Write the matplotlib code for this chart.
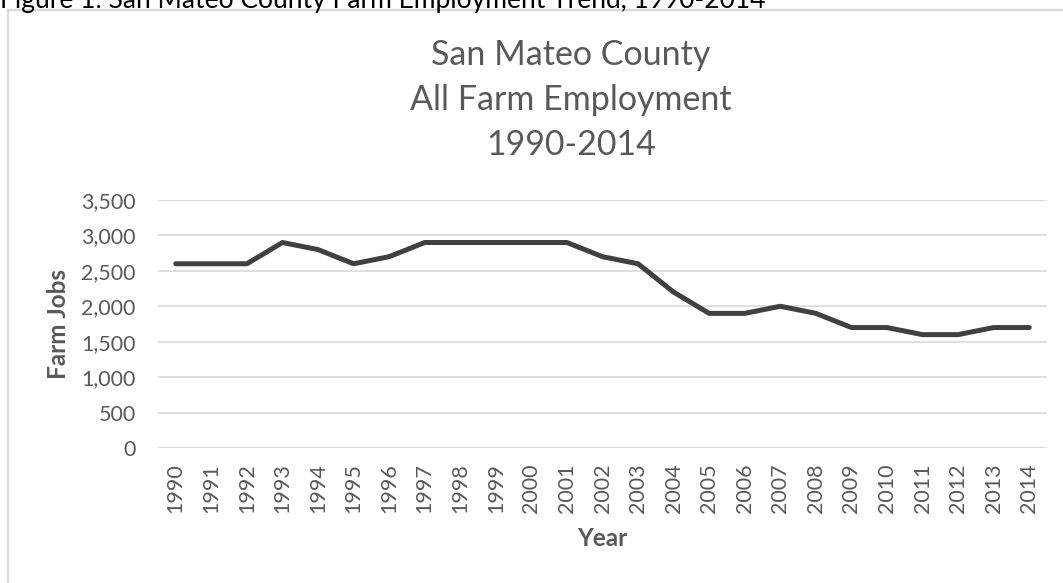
import matplotlib
matplotlib.use("Agg")
import matplotlib.pyplot as plt
from matplotlib.patches import Rectangle

# Data
years = [str(y) for y in range(1990, 2015)]
farm_jobs = [2600, 2600, 2600, 2900, 2800, 2600, 2700, 2900, 2900, 2900,
             2900, 2900, 2700, 2600, 2200, 1900, 1900, 2000, 1900, 1700,
             1700, 1600, 1600, 1700, 1700]
y_ticks = [0, 500, 1000, 1500, 2000, 2500, 3000, 3500]
title_lines = ["San Mateo County", "All Farm Employment", "1990-2014"]
caption = "Figure 1: San Mateo County Farm Employment Trend, 1990-2014"

W, H = 1063, 583
TEXT_GREY = "#595959"
GRID_GREY = "#d9d9d9"

plt.rcParams["font.family"] = ["Lato", "DejaVu Sans"]

fig = plt.figure(figsize=(W / 100, H / 100), dpi=100)


def fx(px):
    return px / W


def fy(py):
    return 1 - py / H


# chart frame (runs off the right and bottom edges)
fig.patches.append(Rectangle((fx(8), fy(700)), fx(1200), fy(10) - fy(700),
                             transform=fig.transFigure, fill=False,
                             edgecolor=GRID_GREY, linewidth=1.6))

# caption, clipped at the top of the image like in the source
fig.text(fx(0), fy(8), caption, fontsize=19, color="black", va="baseline", ha="left")

ax = fig.add_axes([fx(158), fy(448), fx(1047) - fx(158), fy(200) - fy(448)])
x = list(range(len(years)))
ax.plot(x, farm_jobs, color="#404040", linewidth=3.6, solid_capstyle="round",
        solid_joinstyle="round", zorder=3)

ax.set_xlim(-0.5, len(years) - 0.5)
ax.set_ylim(0, 3500)
ax.set_yticks(y_ticks)
ax.set_yticklabels([f"{v:,}" for v in y_ticks])
ax.set_xticks(x)
ax.set_xticklabels(years, rotation=90)
ax.grid(axis="y", color=GRID_GREY, linewidth=1.2)
ax.set_axisbelow(True)
for s in ax.spines.values():
    s.set_visible(False)
ax.tick_params(axis="both", length=0, labelsize=15.5, colors=TEXT_GREY)
ax.tick_params(axis="y", pad=16)
ax.tick_params(axis="x", pad=11)

fig.text(fx(602), fy(538), "Year", fontsize=17.5, fontweight="bold",
         color=TEXT_GREY, ha="center", va="center")
fig.text(fx(58), fy(324), "Farm Jobs", fontsize=17.5, fontweight="bold",
         color=TEXT_GREY, ha="center", va="center", rotation=90)

for line, base in zip(title_lines, [65, 110, 155]):
    fig.text(fx(571), fy(base), line, fontsize=24.5, color=TEXT_GREY,
             ha="center", va="baseline")

fig.savefig("out.png", dpi=100)
